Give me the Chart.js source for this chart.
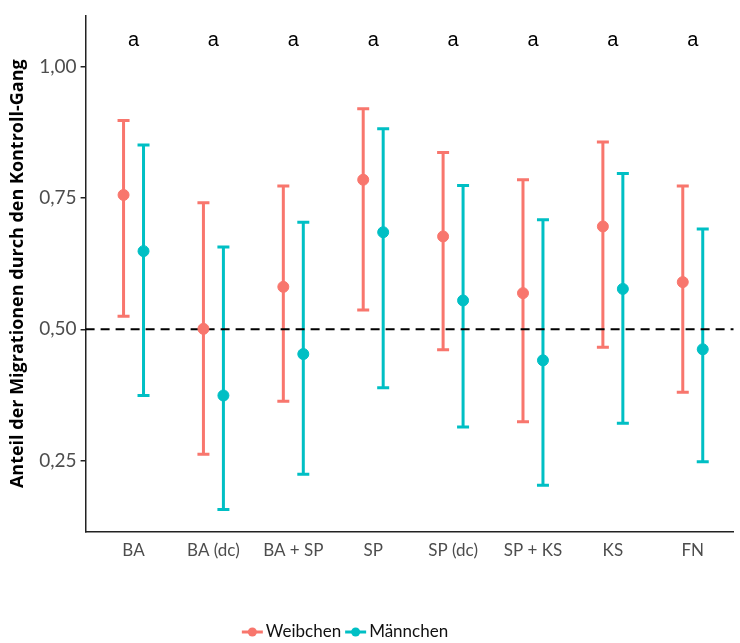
<!DOCTYPE html>
<html>
<head>
<meta charset="utf-8">
<script src="https://cdn.jsdelivr.net/npm/chart.js@4"></script>
<style>
  body { margin: 0; background: #fff; }
  #wrap { width: 740px; height: 643px; position: relative; }
</style>
</head>
<body>
<div id="wrap"><canvas id="migrationChart"></canvas></div>
<script>
// categories and values
const categories = ['BA', 'BA (dc)', 'BA + SP', 'SP', 'SP (dc)', 'SP + KS', 'KS', 'FN'];
const womenMean = [0.756, 0.501, 0.581, 0.785, 0.677, 0.569, 0.696, 0.590];
const womenLow  = [0.525, 0.262, 0.363, 0.537, 0.461, 0.324, 0.466, 0.380];
const womenHigh = [0.898, 0.741, 0.773, 0.920, 0.837, 0.785, 0.857, 0.773];
const menMean = [0.649, 0.374, 0.453, 0.685, 0.555, 0.441, 0.577, 0.462];
const menLow  = [0.374, 0.157, 0.224, 0.389, 0.314, 0.203, 0.321, 0.248];
const menHigh = [0.851, 0.657, 0.704, 0.882, 0.774, 0.709, 0.797, 0.691];
const sigLetters = ['a', 'a', 'a', 'a', 'a', 'a', 'a', 'a'];
const sigLevel = 1.050;
const yTicks = [0.25, 0.50, 0.75, 1.00];
const refLine = 0.5;
const seriesNames = ['Weibchen', 'Männchen'];

const red = '#F8766D';
const teal = '#00BFC4';
const dodge = 0.125;
const font = 'Lato, "Open Sans", sans-serif';

document.addEventListener('DOMContentLoaded', function() {
    const series = [
        { name: seriesNames[0], color: red, mean: womenMean, low: womenLow, high: womenHigh, shift: -dodge },
        { name: seriesNames[1], color: teal, mean: menMean, low: menLow, high: menHigh, shift: dodge }
    ];

    // error bars, dashed line, letters and legend
    const extras = {
        id: 'extras',
        beforeDatasetsDraw(chart) {
            const ctx = chart.ctx;
            const xs = chart.scales.x, ys = chart.scales.y;
            const area = chart.chartArea;
            ctx.save();
            series.forEach(s => {
                ctx.strokeStyle = s.color;
                ctx.lineWidth = 3;
                s.mean.forEach((m, i) => {
                    const px = xs.getPixelForValue(i + s.shift);
                    const top = ys.getPixelForValue(s.high[i]);
                    const bot = ys.getPixelForValue(s.low[i]);
                    ctx.beginPath();
                    ctx.moveTo(px, top); ctx.lineTo(px, bot);
                    ctx.moveTo(px - 6, top); ctx.lineTo(px + 6, top);
                    ctx.moveTo(px - 6, bot); ctx.lineTo(px + 6, bot);
                    ctx.stroke();
                });
            });
            const yr = ys.getPixelForValue(refLine);
            ctx.strokeStyle = '#000';
            ctx.lineWidth = 2;
            ctx.setLineDash([9, 6]);
            ctx.beginPath();
            ctx.moveTo(area.left, yr); ctx.lineTo(area.right, yr);
            ctx.stroke();
            ctx.setLineDash([]);
            ctx.fillStyle = '#000';
            ctx.font = '20px "Liberation Sans", Arial, sans-serif';
            ctx.textAlign = 'center';
            ctx.textBaseline = 'middle';
            sigLetters.forEach((l, i) => {
                ctx.fillText(l, xs.getPixelForValue(i), ys.getPixelForValue(sigLevel));
            });
            ctx.restore();
        },
        afterDraw(chart) {
            const ctx = chart.ctx;
            ctx.save();
            ctx.font = '17px ' + font;
            ctx.textBaseline = 'middle';
            ctx.textAlign = 'left';
            const sym = 21, gap = 3;
            let total = 0;
            series.forEach(s => { total += sym + gap + ctx.measureText(s.name).width + 4; });
            let x = 347 - total / 2;
            const y = 632;
            series.forEach(s => {
                ctx.strokeStyle = s.color;
                ctx.fillStyle = s.color;
                ctx.lineWidth = 3;
                ctx.beginPath();
                ctx.moveTo(x, y); ctx.lineTo(x + sym, y);
                ctx.stroke();
                ctx.beginPath();
                ctx.arc(x + sym / 2, y, 4.5, 0, Math.PI * 2);
                ctx.fill();
                ctx.fillStyle = '#111';
                ctx.fillText(s.name, x + sym + gap, y);
                x += sym + gap + ctx.measureText(s.name).width + 4;
            });
            ctx.restore();
        }
    };

    let ctx = document.getElementById('migrationChart').getContext('2d');
    let chart = new Chart(ctx, {
        type: 'scatter',
        data: {
            datasets: series.map(s => ({
                label: s.name,
                data: s.mean.map((m, i) => ({ x: i + s.shift, y: m })),
                backgroundColor: s.color,
                borderColor: s.color,
                pointRadius: 5.5,
                pointHoverRadius: 5.5
            }))
        },
        options: {
            responsive: true,
            maintainAspectRatio: false,
            animation: false,
            layout: { padding: { top: 12, right: 0, bottom: 0, left: 0 } },
            plugins: {
                legend: { display: false },
                tooltip: { enabled: false }
            },
            scales: {
                x: {
                    type: 'linear',
                    min: -0.6,
                    max: 7.51,
                    afterBuildTicks: scale => { scale.ticks = categories.map((c, i) => ({ value: i })); },
                    afterFit: scale => { scale.height = 111; },
                    ticks: {
                        callback: v => categories[v],
                        color: '#4d4d4d',
                        font: { family: font, size: 17 },
                        padding: 0,
                        maxRotation: 0,
                        autoSkip: false
                    },
                    grid: { display: false },
                    border: { display: true, color: '#222', width: 1.5 }
                },
                y: {
                    min: 0.114,
                    max: 1.098,
                    afterBuildTicks: scale => { scale.ticks = yTicks.map(v => ({ value: v })); },
                    afterFit: scale => { scale.width = 85.6; },
                    ticks: {
                        callback: v => v.toFixed(2).replace('.', ','),
                        color: '#4d4d4d',
                        font: { family: font, size: 19 },
                        padding: 4
                    },
                    grid: { drawOnChartArea: false, drawTicks: true, tickLength: 5, color: '#222', lineWidth: 1.5 },
                    border: { display: true, color: '#222', width: 1.5 },
                    title: {
                        display: true,
                        text: 'Anteil der Migrationen durch den Kontroll-Gang',
                        color: '#000',
                        font: { family: '"Open Sans", sans-serif', size: 18, weight: 'bold' },
                        padding: { top: 7, bottom: 0 }
                    }
                }
            }
        },
        plugins: [extras]
    });
});
</script>
</body>
</html>
